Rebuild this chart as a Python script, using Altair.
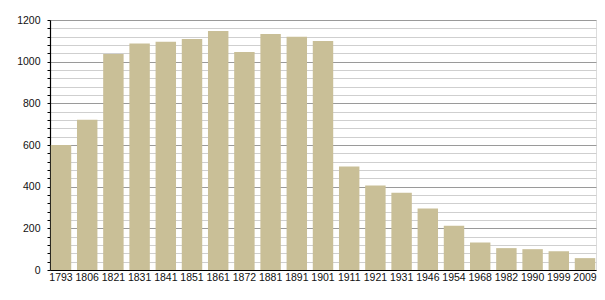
import altair as alt
import pandas as pd

years = ["1793", "1806", "1821", "1831", "1841", "1851", "1861", "1872", "1881", "1891",
         "1901", "1911", "1921", "1931", "1946", "1954", "1968", "1982", "1990", "1999", "2009"]
population = [600, 721, 1037, 1087, 1096, 1109, 1147, 1047, 1133, 1120,
              1099, 497, 406, 371, 295, 213, 132, 105, 100, 90, 57]
y_ticks = list(range(0, 1201, 40))

df = pd.DataFrame({"year": years, "pop": population})

font = "Liberation Sans"

chart = alt.Chart(df).mark_bar(color="#c9bf97").encode(
    x=alt.X("year:N", sort=years, title=None,
            scale=alt.Scale(paddingInner=0.22, paddingOuter=0.03),
            axis=alt.Axis(labelAngle=0, ticks=False, labelPadding=2, labelOverlap=False,
                          domainColor="#000000", domainWidth=1.2, labelFont=font,
                          labelFontSize=10.5, labelColor="#111111", grid=False)),
    y=alt.Y("pop:Q", title=None,
            scale=alt.Scale(domain=[0, 1200], nice=False),
            axis=alt.Axis(values=y_ticks, format="d",
                          labelExpr="datum.value % 200 === 0 ? datum.label : ''",
                          gridColor={"condition": {"test": "datum.value % 200 === 0", "value": "#9a9a9a"},
                                     "value": "#cfcfcf"},
                          gridWidth=1, tickColor="#000000", tickSize=3, labelPadding=7,
                          domainColor="#000000", domainWidth=1.2, labelFont=font,
                          labelFontSize=10.5, labelColor="#111111")),
).properties(
    width=546, height=250,
    autosize=alt.AutoSizeParams(type="none"),
    padding={"left": 50, "top": 20, "right": 9, "bottom": 30},
).configure_view(stroke=None).configure(background="#ffffff")

chart.save("out.html", embed_options={"renderer": "svg", "actions": False})
